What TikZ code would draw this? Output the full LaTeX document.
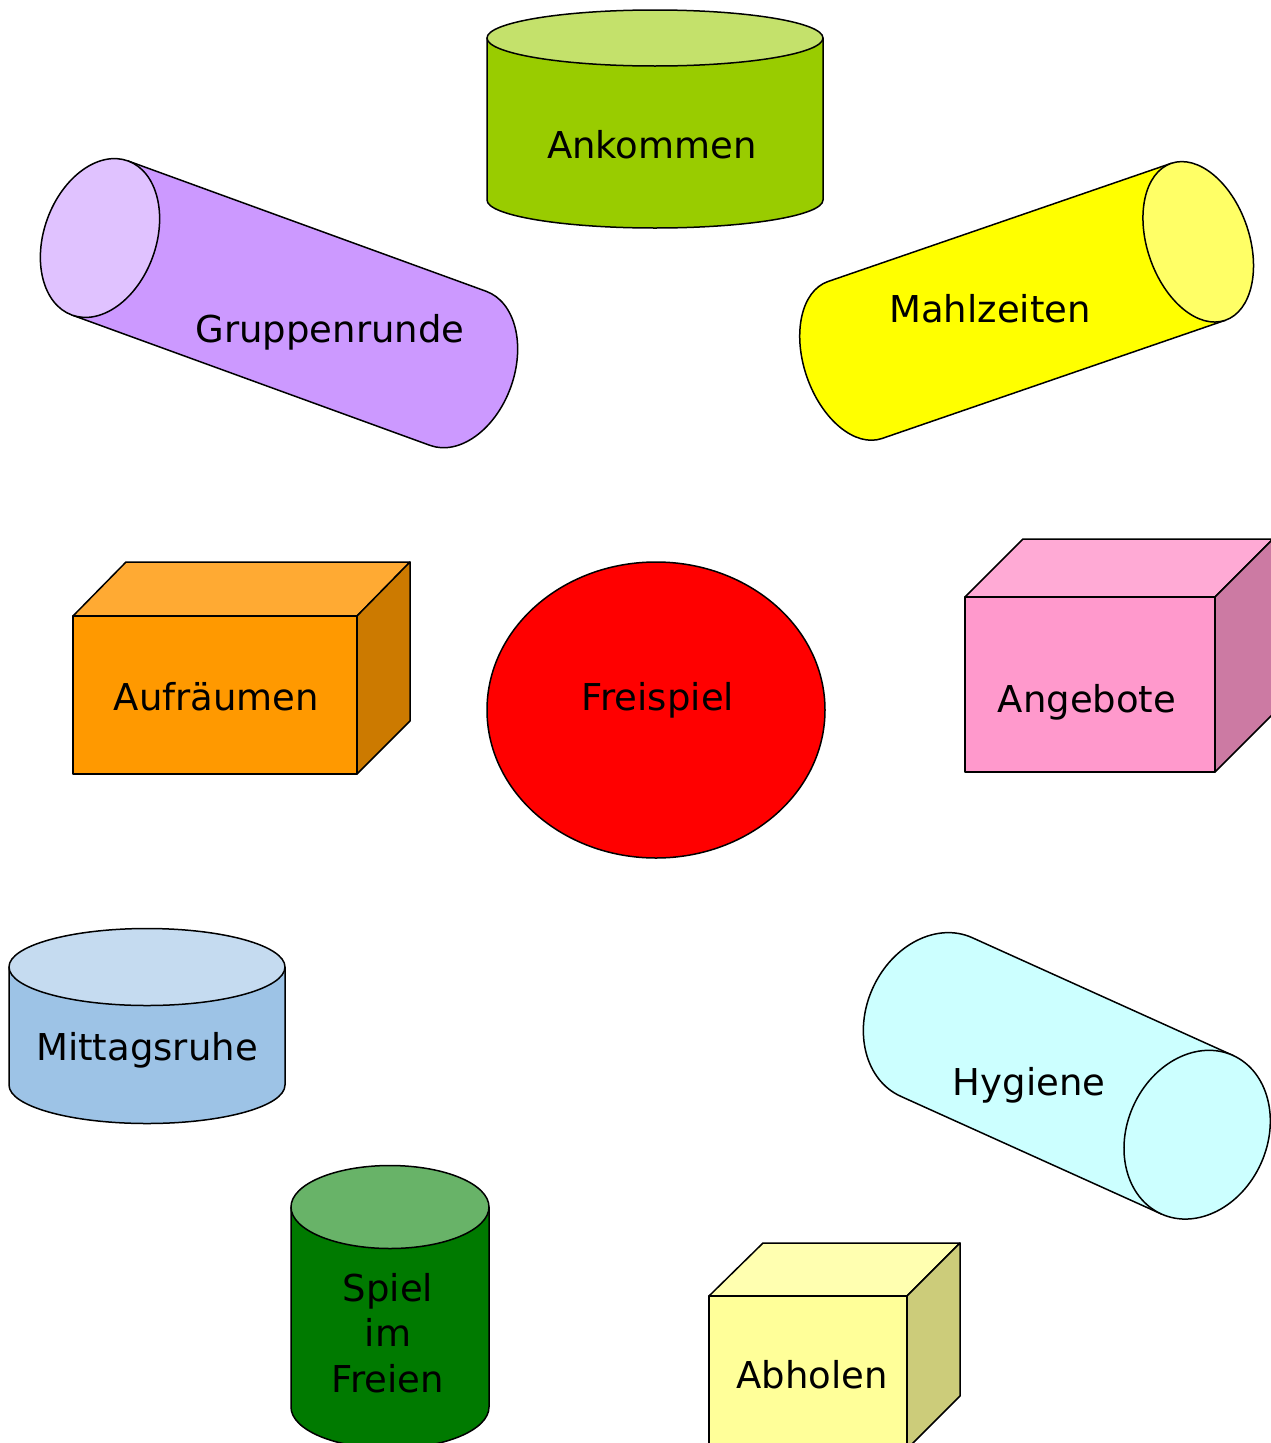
\documentclass[tikz,border=0pt]{standalone}
\usepackage{fontspec}
\setmainfont{DejaVu Sans}
\definecolor{ankBody}{HTML}{99CC00}
\definecolor{ankTop}{HTML}{C4E16B}
\definecolor{grBody}{HTML}{CC99FF}
\definecolor{grEnd}{HTML}{E0C2FF}
\definecolor{mzBody}{HTML}{FFFF00}
\definecolor{mzEnd}{HTML}{FFFF66}
\definecolor{hyBody}{HTML}{CCFFFF}
\definecolor{auFront}{HTML}{FF9900}
\definecolor{auTop}{HTML}{FFAA33}
\definecolor{auSide}{HTML}{CC7A00}
\definecolor{anFront}{HTML}{FF99CC}
\definecolor{anTop}{HTML}{FFAAD5}
\definecolor{anSide}{HTML}{CC7AA3}
\definecolor{miBody}{HTML}{9DC3E6}
\definecolor{miTop}{HTML}{C5DBF0}
\definecolor{spBody}{HTML}{007A00}
\definecolor{spTop}{HTML}{68B368}
\definecolor{abFront}{HTML}{FFFF99}
\definecolor{abTop}{HTML}{FFFFB0}
\definecolor{abSide}{HTML}{CCCC7A}
\begin{document}
\begin{tikzpicture}[x=1pt,y=-1pt,
  outl/.style={draw=black,line width=1.5pt,line join=round},
  lbl/.style={anchor=base,inner sep=0pt,font=\fontsize{37}{45.5}\selectfont,align=center}]
\useasboundingbox (0,0) rectangle (1271,1443);
\clip (0,0) rectangle (1271,1443);
\fill[white] (0,0) rectangle (1271,1443);

% Ankommen (vertical cylinder)
\path[outl,fill=ankBody] (487,38) -- (487,200) arc[start angle=180,end angle=0,x radius=168,y radius=28] -- (823,38) -- cycle;
\path[outl,fill=ankTop] (655,38) ellipse[x radius=168,y radius=28];
\node[lbl] (ankommen) at (652,158) {Ankommen};

% Gruppenrunde (tilted cylinder, visible end left)
\begin{scope}[shift={(100,238)},rotate=-20]
  \path[outl,fill=grBody] (0,-82) -- (381,-82) arc[start angle=-90,end angle=90,x radius=56,y radius=82] -- (0,82) -- cycle;
  \path[outl,fill=grEnd] (0,0) ellipse[x radius=56,y radius=82];
\end{scope}
\node[lbl] (gruppenrunde) at (330,342) {Gruppenrunde};

% Mahlzeiten (tilted cylinder, visible end right)
\begin{scope}[shift={(855,360)},rotate=19]
  \path[outl,fill=mzBody] (363,-83) -- (0,-83) arc[start angle=270,end angle=90,x radius=51,y radius=83] -- (363,83) -- cycle;
  \path[outl,fill=mzEnd] (363,0) ellipse[x radius=51,y radius=83];
\end{scope}
\node[lbl] (mahlzeiten) at (990,322) {Mahlzeiten};

% Aufraeumen (box)
\path[outl,fill=auTop] (73,616) -- (126,562) -- (410,562) -- (357,616) -- cycle;
\path[outl,fill=auSide] (357,616) -- (410,562) -- (410,721) -- (357,774) -- cycle;
\path[outl,fill=auFront] (73,616) rectangle (357,774);
\node[lbl] (aufraeumen) at (216.5,710) {Aufräumen};

% Freispiel (ellipse)
\path[outl,fill=red] (656,710) ellipse[x radius=169,y radius=148];
\node[lbl] (freispiel) at (658,710) {Freispiel};

% Angebote (box)
\path[outl,fill=anTop] (965,597) -- (1023,539) -- (1273,539) -- (1215,597) -- cycle;
\path[outl,fill=anSide] (1215,597) -- (1273,539) -- (1273,714) -- (1215,772) -- cycle;
\path[outl,fill=anFront] (965,597) rectangle (1215,772);
\node[lbl] (angebote) at (1087,712) {Angebote};

% Mittagsruhe (vertical cylinder)
\path[outl,fill=miBody] (9,967) -- (9,1085) arc[start angle=180,end angle=0,x radius=138,y radius=38.5] -- (285,967) -- cycle;
\path[outl,fill=miTop] (147,967) ellipse[x radius=138,y radius=38.5];
\node[lbl] (mittagsruhe) at (147,1060) {Mittagsruhe};

% Hygiene (tilted cylinder, visible end lower right)
\begin{scope}[shift={(936.5,1017)},rotate=-24.3]
  \path[outl,fill=hyBody] (286,-87) -- (0,-87) arc[start angle=270,end angle=90,x radius=70,y radius=87] -- (286,87) -- cycle;
  \path[outl,fill=hyBody] (286,0) ellipse[x radius=70,y radius=87];
\end{scope}
\node[lbl] (hygiene) at (1029,1095) {Hygiene};

% Spiel im Freien (vertical cylinder)
\path[outl,fill=spBody] (291,1207) -- (291,1407) arc[start angle=180,end angle=0,x radius=99,y radius=41.5] -- (489,1207) -- cycle;
\path[outl,fill=spTop] (390,1207) ellipse[x radius=99,y radius=41.5];
\node[lbl,anchor=north] (spiel) at (388,1273) {Spiel\\im\\Freien};

% Abholen (box)
\path[outl,fill=abTop] (709,1296) -- (763,1243) -- (960,1243) -- (907,1296) -- cycle;
\path[outl,fill=abSide] (907,1296) -- (960,1243) -- (960,1396) -- (907,1449) -- cycle;
\path[outl,fill=abFront] (709,1296) rectangle (907,1460);
\node[lbl] (abholen) at (812,1388) {Abholen};
\end{tikzpicture}
\end{document}
